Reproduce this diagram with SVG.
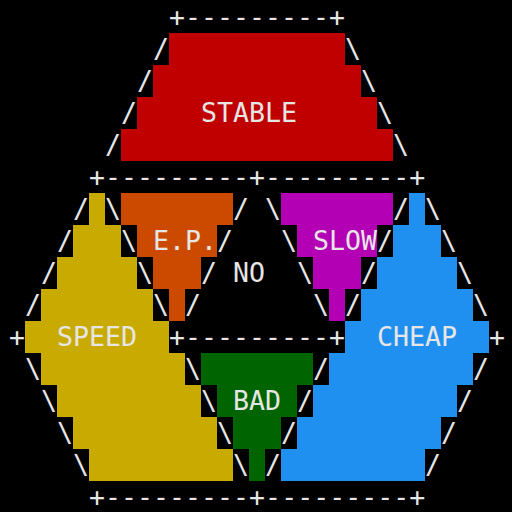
<svg xmlns="http://www.w3.org/2000/svg" width="512" height="512" viewBox="0 0 512 512">
<style>
text{font-family:"DejaVu Sans Mono","Liberation Mono",monospace;font-size:26.6px;fill:#e6e6e6;white-space:pre}
</style>
<rect width="512" height="512" fill="#000"/>
<g id="stable">
<polygon fill="#c00000" points="169,33 345,33 345,65 361,65 361,97 377,97 377,129 393,129 393,161 121,161 121,129 137,129 137,97 153,97 153,65 169,65"/>
<text x="201" y="122">STABLE</text>
</g>
<g id="speed">
<polygon fill="#c8aa00" points="89,193 105,193 105,225 121,225 121,257 137,257 137,289 153,289 153,321 169,321 169,353 185,353 185,385 201,385 201,417 217,417 217,449 233,449 233,481 89,481 89,449 73,449 73,417 57,417 57,385 41,385 41,353 25,353 25,321 41,321 41,289 57,289 57,257 73,257 73,225 89,225"/>
<text x="57" y="346">SPEED</text>
</g>
<g id="ep">
<polygon fill="#cc4a00" points="121,193 233,193 233,225 217,225 217,257 201,257 201,289 185,289 185,321 169,321 169,289 153,289 153,257 137,257 137,225 121,225"/>
<text x="153" y="250">E.P.</text>
</g>
<g id="slow">
<polygon fill="#b400b4" points="281,193 393,193 393,225 377,225 377,257 361,257 361,289 345,289 345,321 329,321 329,289 313,289 313,257 297,257 297,225 281,225"/>
<text x="313" y="250">SLOW</text>
</g>
<g id="cheap">
<polygon fill="#2090f0" points="409,193 425,193 425,225 441,225 441,257 457,257 457,289 473,289 473,321 489,321 489,353 473,353 473,385 457,385 457,417 441,417 441,449 425,449 425,481 281,481 281,449 297,449 297,417 313,417 313,385 329,385 329,353 345,353 345,321 361,321 361,289 377,289 377,257 393,257 393,225 409,225"/>
<text x="377" y="346">CHEAP</text>
</g>
<g id="bad">
<polygon fill="#006400" points="201,353 313,353 313,385 297,385 297,417 281,417 281,449 265,449 265,481 249,481 249,449 233,449 233,417 217,417 217,385 201,385"/>
<text x="233" y="410">BAD</text>
</g>
<g id="no">
<text x="233" y="282">NO</text>
</g>
<g id="frame">
<text x="169" y="26">+---------+</text>
<text x="153" y="58">/</text><text x="345" y="58">\</text>
<text x="137" y="90">/</text><text x="361" y="90">\</text>
<text x="121" y="122">/</text><text x="377" y="122">\</text>
<text x="105" y="154">/</text><text x="393" y="154">\</text>
<text x="89" y="186">+---------+---------+</text>
<text x="73" y="218">/</text><text x="105" y="218">\</text><text x="233" y="218">/</text><text x="265" y="218">\</text><text x="393" y="218">/</text><text x="425" y="218">\</text>
<text x="57" y="250">/</text><text x="121" y="250">\</text><text x="217" y="250">/</text><text x="281" y="250">\</text><text x="377" y="250">/</text><text x="441" y="250">\</text>
<text x="41" y="282">/</text><text x="137" y="282">\</text><text x="201" y="282">/</text><text x="297" y="282">\</text><text x="361" y="282">/</text><text x="457" y="282">\</text>
<text x="25" y="314">/</text><text x="153" y="314">\</text><text x="185" y="314">/</text><text x="313" y="314">\</text><text x="345" y="314">/</text><text x="473" y="314">\</text>
<text x="9" y="346">+</text><text x="169" y="346">+---------+</text><text x="489" y="346">+</text>
<text x="25" y="378">\</text><text x="185" y="378">\</text><text x="313" y="378">/</text><text x="473" y="378">/</text>
<text x="41" y="410">\</text><text x="201" y="410">\</text><text x="297" y="410">/</text><text x="457" y="410">/</text>
<text x="57" y="442">\</text><text x="217" y="442">\</text><text x="281" y="442">/</text><text x="441" y="442">/</text>
<text x="73" y="474">\</text><text x="233" y="474">\</text><text x="265" y="474">/</text><text x="425" y="474">/</text>
<text x="89" y="506">+---------+---------+</text>
</g>
</svg>
